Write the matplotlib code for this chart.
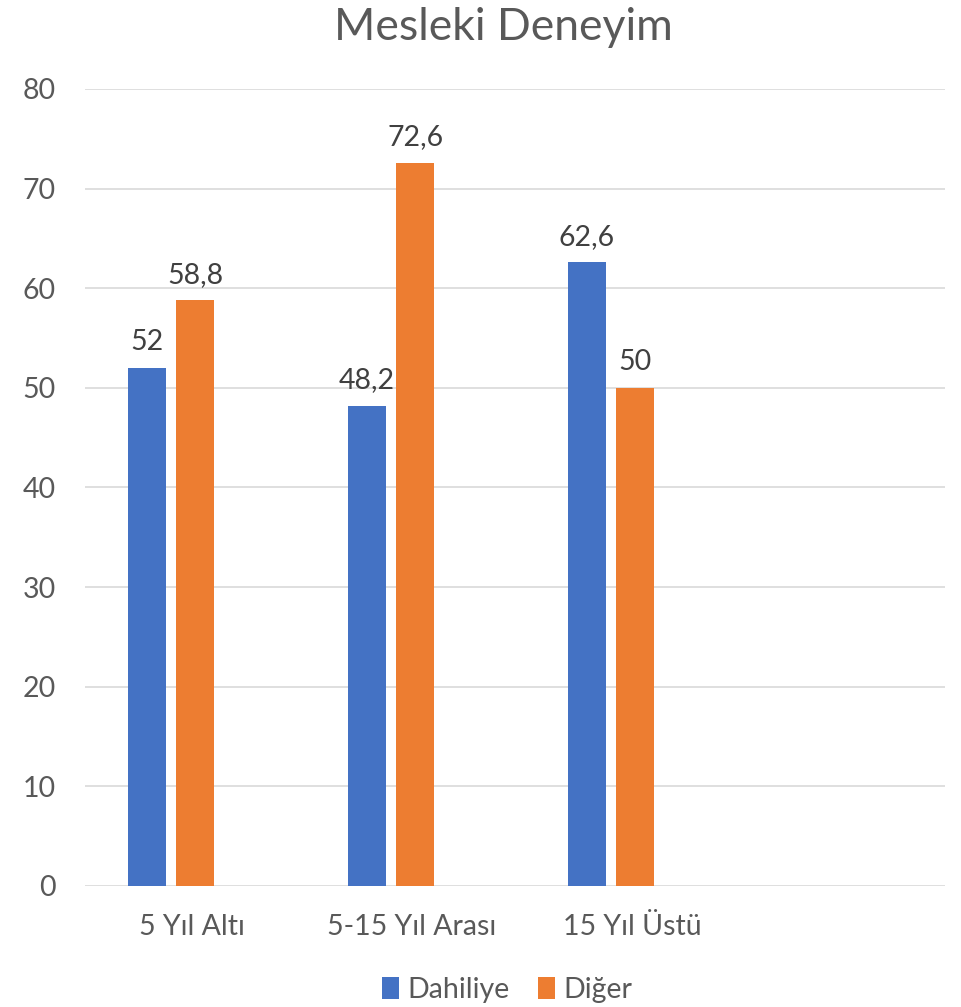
import matplotlib.pyplot as plt
import numpy as np

categories = ["5 Yıl Altı", "5-15 Yıl Arası", "15 Yıl Üstü", ""]
dahiliye = [52, 48.2, 62.6, None]
diger = [58.8, 72.6, 50, None]
value_labels_dahiliye = ["52", "48,2", "62,6"]
value_labels_diger = ["58,8", "72,6", "50"]

plt.rcParams['font.family'] = ['Lato', 'DejaVu Sans']

fig = plt.figure(figsize=(9.62, 10.07), dpi=100)
ax = fig.add_axes([85 / 962, 121 / 1007, 860 / 962, 797 / 1007])

x = np.arange(len(categories))
w = 0.173
off = 0.111
blue = '#4472C4'
orange = '#ED7D31'

d_vals = [v if v is not None else 0 for v in dahiliye]
o_vals = [v if v is not None else 0 for v in diger]
bars1 = ax.bar(x - off, d_vals, w, color=blue, label='Dahiliye', zorder=3)
bars2 = ax.bar(x + off, o_vals, w, color=orange, label='Diğer', zorder=3)

for b, t in zip(bars1, value_labels_dahiliye):
    ax.annotate(t, (b.get_x() + b.get_width() / 2, b.get_height()),
                xytext=(0, 9), textcoords='offset points', ha='center', va='bottom',
                fontsize=20.5, color='#404040')
for b, t in zip(bars2, value_labels_diger):
    ax.annotate(t, (b.get_x() + b.get_width() / 2, b.get_height()),
                xytext=(0, 9), textcoords='offset points', ha='center', va='bottom',
                fontsize=20.5, color='#404040')

ax.set_xlim(-0.391, 3.518)
ax.set_ylim(0, 80)
ax.set_yticks(range(0, 81, 10))
ax.set_xticks(x + 0.095)
ax.set_xticklabels(categories)
ax.tick_params(axis='both', length=0, labelsize=20.5, labelcolor='#595959')
ax.tick_params(axis='x', pad=20)
ax.tick_params(axis='y', pad=21)
ax.grid(axis='y', color='#d9d9d9', linewidth=1.2, zorder=0)
for s in ax.spines.values():
    s.set_visible(False)

fig.text(503 / 962, 1 - 28 / 1007, "Mesleki Deneyim", ha='center', va='center',
         fontsize=32, color='#595959')

fig.legend(handles=[bars1, bars2], loc='center', bbox_to_anchor=(507 / 962, 1 - 990 / 1007),
           ncol=2, frameon=False, fontsize=20.5, handlelength=0.6, handleheight=0.8,
           handletextpad=0.3, columnspacing=1.0, labelcolor='#595959')

fig.savefig('out.png', dpi=100)
